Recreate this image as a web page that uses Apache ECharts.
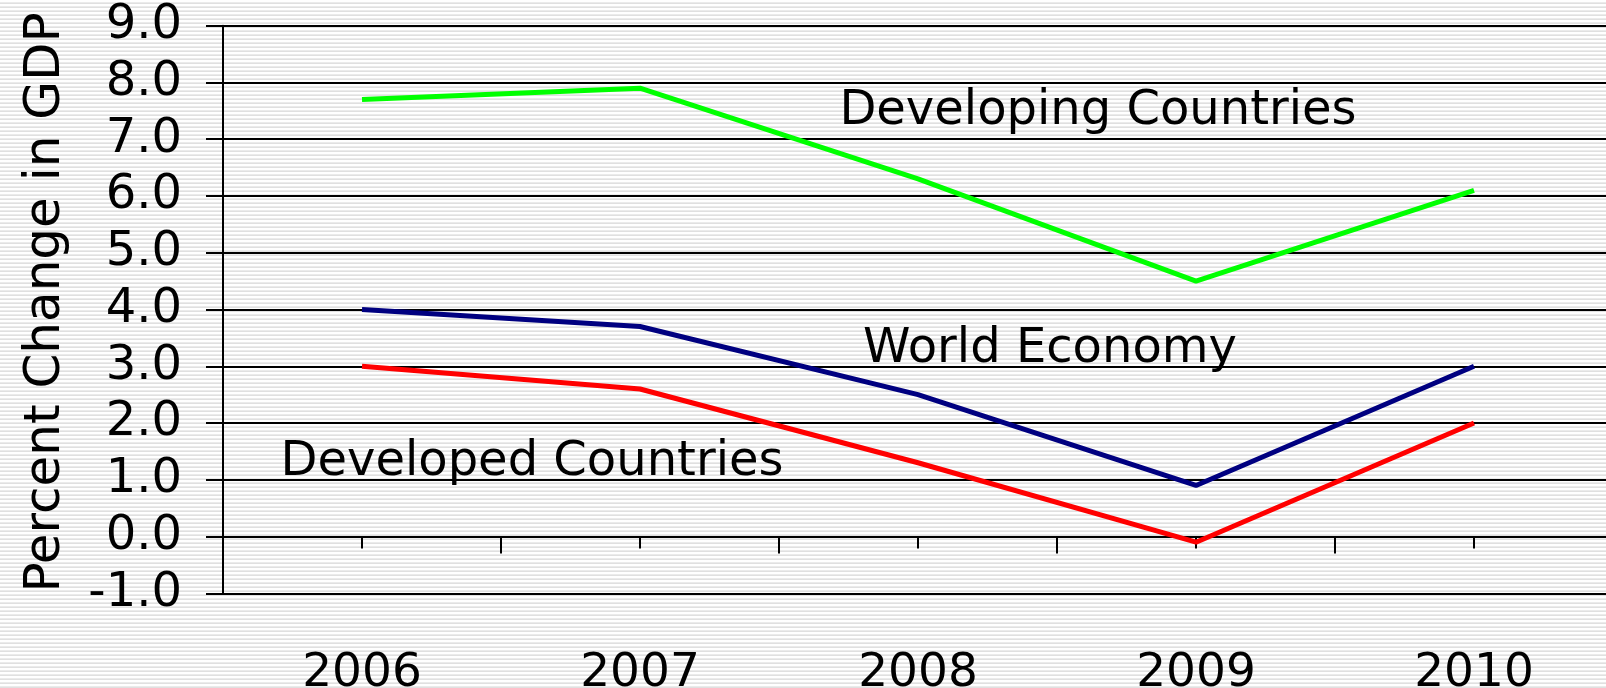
<!DOCTYPE html>
<html>
<head>
<meta charset="utf-8">
<script src="https://cdn.jsdelivr.net/npm/echarts@6/dist/echarts.min.js"></script>
<style>
html, body { margin: 0; padding: 0; }
body {
  width: 1606px; height: 688px; overflow: hidden;
  background: repeating-linear-gradient(to bottom, #ffffff 0px, #ffffff 2px, #ebebeb 2px, #ebebeb 3px, #e0e0e0 3px, #e0e0e0 4px);
}
#chart { width: 1606px; height: 688px; }
</style>
</head>
<body>
<div id="chart"></div>
<script>
const years = ['2006', '2007', '2008', '2009', '2010'];
const developing = [7.7, 7.9, 6.3, 4.5, 6.1];
const world = [4.0, 3.7, 2.5, 0.9, 3.0];
const developed = [3.0, 2.6, 1.3, -0.1, 2.0];
const yMin = -1, yMax = 9, yStep = 1;
const yTitle = 'Percent Change in GDP';
const labels = ['Developing Countries', 'World Economy', 'Developed Countries'];

const FONT = 'DejaVu Sans';
const gridTop = 25.7, gridBottom = 94.7;
const plotH = 688 - gridTop - gridBottom;
const zeroOffset = -plotH * (0 - yMin) / (yMax - yMin);

const chart = echarts.init(document.getElementById('chart'), null, { renderer: 'canvas' });
chart.setOption({
  backgroundColor: 'transparent',
  animation: false,
  grid: { left: 223, top: gridTop, width: 1390, bottom: gridBottom, containLabel: false, outerBoundsMode: 'none' },
  xAxis: [
    {
      type: 'category', data: years, boundaryGap: true,
      axisLine: { show: true, onZero: true, lineStyle: { color: '#000', width: 2 } },
      axisTick: { show: true, length: 17, interval: 0, lineStyle: { color: '#000', width: 2 } },
      axisLabel: { show: false },
      splitLine: { show: false }
    },
    {
      type: 'category', data: years, boundaryGap: true, position: 'bottom', offset: zeroOffset,
      axisLine: { show: false, onZero: false },
      axisTick: { show: true, alignWithLabel: true, length: 12, interval: 0, lineStyle: { color: '#000', width: 2 } },
      axisLabel: { show: true, interval: 0, margin: 114, color: '#000', fontFamily: FONT, fontSize: 47 },
      splitLine: { show: false }
    }
  ],
  yAxis: {
    type: 'value', min: yMin, max: yMax, interval: yStep,
    name: yTitle, nameLocation: 'middle', nameGap: 152, nameRotate: 90,
    nameTextStyle: { color: '#000', fontFamily: FONT, fontSize: 50, padding: [0, 0, 0, 14] },
    axisLine: { show: true, lineStyle: { color: '#000', width: 2 } },
    axisTick: { show: true, length: 17, lineStyle: { color: '#000', width: 2 } },
    axisLabel: { margin: 41, color: '#000', fontFamily: FONT, fontSize: 48, padding: [9, 0, 0, 0],
      formatter: v => v.toFixed(1) },
    splitLine: { show: true, lineStyle: { color: '#000', width: 2 } }
  },
  series: [
    { name: labels[0], type: 'line', data: developing, xAxisIndex: 0, symbol: 'none',
      lineStyle: { color: '#00ff00', width: 5 }, itemStyle: { color: '#00ff00' } },
    { name: labels[1], type: 'line', data: world, xAxisIndex: 0, symbol: 'none',
      lineStyle: { color: '#000080', width: 5 }, itemStyle: { color: '#000080' } },
    { name: labels[2], type: 'line', data: developed, xAxisIndex: 0, symbol: 'none',
      lineStyle: { color: '#ff0000', width: 5 }, itemStyle: { color: '#ff0000' } }
  ],
  graphic: [
    { type: 'text', x: 1098, y: 112, style: { text: labels[0], fill: '#000', font: '48px "DejaVu Sans"', textAlign: 'center', textVerticalAlign: 'middle' } },
    { type: 'text', x: 1050, y: 350, style: { text: labels[1], fill: '#000', font: '48px "DejaVu Sans"', textAlign: 'center', textVerticalAlign: 'middle' } },
    { type: 'text', x: 532, y: 463, style: { text: labels[2], fill: '#000', font: '48px "DejaVu Sans"', textAlign: 'center', textVerticalAlign: 'middle' } }
  ]
});
</script>
</body>
</html>
